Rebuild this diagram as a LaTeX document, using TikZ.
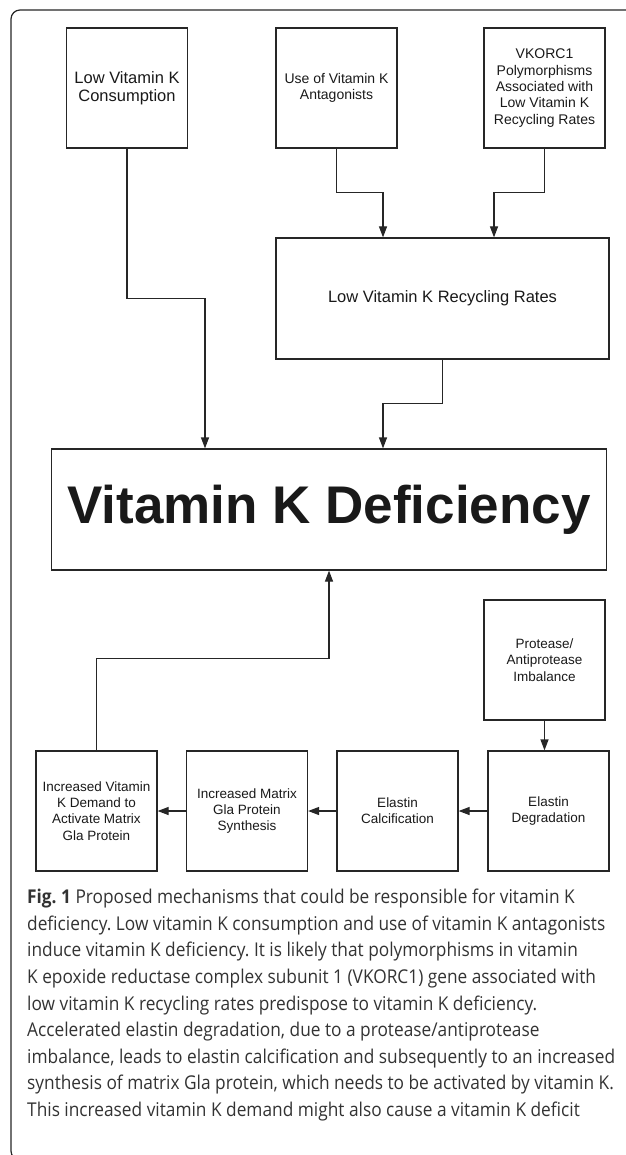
\documentclass[tikz,border=0pt]{standalone}
\usepackage{fontspec}
\setmainfont{Liberation Sans}
\newfontfamily\captionfont[FakeStretch=0.91]{Open Sans}
\usetikzlibrary{positioning,arrows.meta}
\frenchspacing

\begin{document}
\begin{tikzpicture}[x=1pt,y=-1pt,
    box/.style={
      draw=black!85,line width=1.2pt,align=center,inner sep=0pt,
      minimum width=121pt,minimum height=120pt,text=black!90
    },
    smallbox/.style={
      box,
      font=\fontsize{13.5}{16.3}\selectfont
    },
    bigbox/.style={
      box,
      font=\fontsize{16.5}{18.5}\selectfont
    },
    arrow/.style={
      draw=black!85,line width=1.2pt,
      -{Triangle[length=11pt,width=8pt]}
    }]
  \useasboundingbox (0,0) rectangle (625,1155);
  \draw[black!85,line width=1.2pt,rounded corners=9pt]
    (640,10) -- (11,10) -- (11,1160) -- (640,1160);

  % causes
  \node[bigbox] (lowcons) at (127,88) {Low Vitamin K\\Consumption};
  \node[smallbox,font=\fontsize{14}{16.3}\selectfont] (antag) at (336.5,88) {Use of Vitamin K\\Antagonists};
  \node[smallbox,font=\fontsize{14}{16.3}\selectfont] (vkorc) at (544.5,88)
    {VKORC1\\Polymorphisms\\Associated with\\Low Vitamin K\\Recycling Rates};
  \node[bigbox,minimum width=333pt,minimum height=121pt] (recyc) at (442.5,298.5)
    {Low Vitamin K Recycling Rates};

  \node[box,minimum width=555pt,minimum height=121pt,
    font=\fontsize{53}{60}\selectfont\bfseries] (defic) at (329,509.5) {Vitamin K Deficiency};

  % elastin chain
  \node[smallbox] (protease) at (544.5,660) {Protease/\\Antiprotease\\Imbalance};
  \node[smallbox] (degr) at (548.5,811) {Elastin\\Degradation};
  \node[smallbox] (calc) at (397.5,811) {Elastin\\Calcification};
  \node[smallbox] (mgp) at (247,811) {Increased Matrix\\Gla Protein\\Synthesis};
  \node[smallbox] (demand) at (96.5,811)
    {Increased Vitamin\\K Demand to\\Activate Matrix\\Gla Protein};

  \draw[arrow] (lowcons.south) -- ++(0,150) -| ([xshift=-124pt]defic.north);
  \draw[arrow] (antag.south) -- ++(0,44) -| ([xshift=-59.5pt]recyc.north);
  \draw[arrow] (vkorc.south) -- ++(0,44) -| ([xshift=51.5pt]recyc.north);
  \draw[arrow] (recyc.south) -- ++(0,44) -| ([xshift=54pt]defic.north);

  \draw[arrow] (protease.south) -- (protease.south |- degr.north);
  \draw[arrow] (degr) -- (calc);
  \draw[arrow] (calc) -- (mgp);
  \draw[arrow] (mgp) -- (demand);
  \draw[arrow] (demand.north) -- ++(0,-92) -| (defic.south);

  \node[anchor=north west,inner sep=0pt,align=left,text=black!80,
    font=\captionfont\fontsize{19}{26.6}\selectfont] (caption) at (27,889)
    {\textbf{Fig. 1} Proposed mechanisms that could be responsible for vitamin K\\
     deficiency. Low vitamin K consumption and use of vitamin K antagonists\\
     induce vitamin K deficiency. It is likely that polymorphisms in vitamin\\
     K epoxide reductase complex subunit 1 (VKORC1) gene associated with\\
     low vitamin K recycling rates predispose to vitamin K deficiency.\\
     Accelerated elastin degradation, due to a protease/antiprotease\\
     imbalance, leads to elastin calcification and subsequently to an increased\\
     synthesis of matrix Gla protein, which needs to be activated by vitamin K.\\
     This increased vitamin K demand might also cause a vitamin K deficit};
\end{tikzpicture}
\end{document}
